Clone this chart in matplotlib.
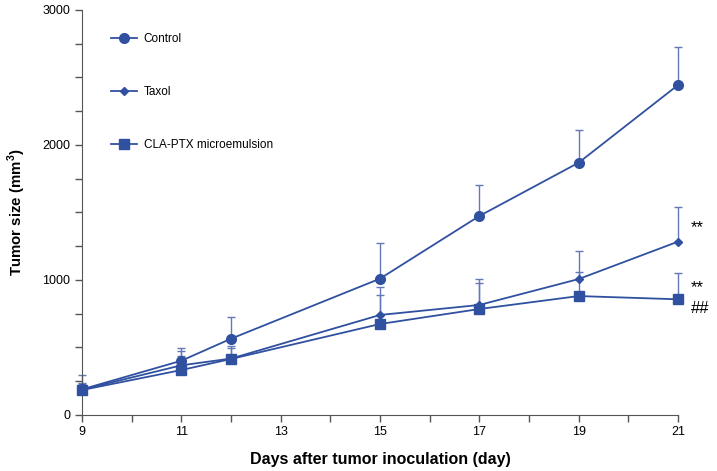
import matplotlib
import matplotlib.pyplot as plt
import numpy as np

matplotlib.use("Agg")
plt.rcParams["font.family"] = ["Liberation Sans", "DejaVu Sans"]

# data
days = [9, 11, 12, 15, 17, 19, 21]
control = [190, 402, 565, 1010, 1474, 1869, 2444]
control_err = [106, 97, 163, 262, 232, 242, 284]
taxol = [188, 368, 418, 741, 815, 1007, 1284]
taxol_err = [50, 108, 92, 205, 192, 210, 254]
cla_ptx = [185, 333, 415, 674, 785, 881, 857]
cla_ptx_err = [45, 104, 80, 215, 190, 178, 192]

series = [
    ("Control", control, control_err, "o", 7),
    ("Taxol", taxol, taxol_err, "D", 4),
    ("CLA-PTX microemulsion", cla_ptx, cla_ptx_err, "s", 6.5),
]
annotations = [("**", 21, 1390), ("**", 21, 940), ("##", 21, 790)]

color = "#3050a0"
err_color = "#6478b8"

fig = plt.figure(figsize=(7.17, 4.71), dpi=100)
ax = fig.add_axes([0.1144, 0.1189, 0.8312, 0.8599])

for name, vals, errs, mk, ms in series:
    ax.errorbar(days, vals, yerr=[np.zeros(len(errs)), errs], fmt="none",
                ecolor=err_color, elinewidth=1, capsize=3, capthick=1, zorder=2,
                clip_on=False)
    ax.plot(days, vals, color=color, marker=mk, markersize=ms, linewidth=1.3,
            label=name, zorder=3, clip_on=False)

for txt, x, y in annotations:
    ax.annotate(txt, (x, y), xytext=(9, 0), textcoords="offset points",
                fontsize=12, va="center", ha="left", annotation_clip=False)

ax.set_xlim(9, 21)
ax.set_ylim(0, 3000)
ax.set_xticks(range(9, 22, 2))
ax.set_xticks(range(9, 22), minor=True)
ax.set_yticks([0, 1000, 2000, 3000])
ax.set_yticks(np.arange(0, 3001, 250), minor=True)
ax.tick_params(axis="both", which="both", direction="out", labelsize=9,
               color="#555555", width=1, length=5)
ax.tick_params(axis="x", pad=3)
for s in ["top", "right"]:
    ax.spines[s].set_visible(False)
for s in ["left", "bottom"]:
    ax.spines[s].set_color("#555555")

ax.set_xlabel("Days after tumor inoculation (day)", fontsize=11.5, fontweight="bold",
              labelpad=10)
ax.set_ylabel("Tumor size (mm$^\\mathregular{3}$)", fontsize=10.8, fontweight="bold",
              labelpad=10)

ax.legend(loc="upper left", bbox_to_anchor=(0.03, 0.97), frameon=False, fontsize=8.5,
          labelspacing=3.5, handlelength=2.2, handletextpad=0.6)

fig.savefig("out.png", dpi=100)
plt.close(fig)
